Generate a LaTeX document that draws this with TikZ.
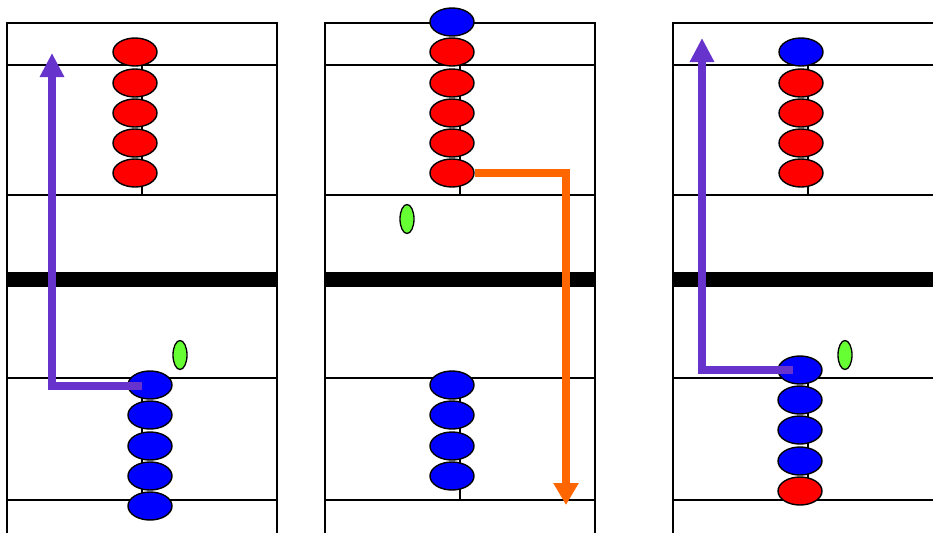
\documentclass[tikz,border=0pt]{standalone}
\usetikzlibrary{shapes.geometric,arrows.meta}
\definecolor{beadred}{RGB}{255,0,0}
\definecolor{beadblue}{RGB}{0,0,255}
\definecolor{ionGreen}{RGB}{102,255,51}
\definecolor{arrowPurple}{RGB}{102,51,204}
\definecolor{arrowOrange}{RGB}{255,102,0}
\tikzset{
  frame/.style={line width=1.9pt, black},
  barline/.style={line width=15pt, black},
  rod/.style={line width=2.8pt, black},
  bead/.style={ellipse, draw=black, line width=1.4pt, minimum width=44pt, minimum height=28pt, inner sep=0pt},
  redbead/.style={bead, fill=beadred},
  bluebead/.style={bead, fill=beadblue},
  ionbead/.style={ellipse, draw=black, line width=1.3pt, fill=ionGreen, minimum width=14pt, minimum height=29pt, inner sep=0pt},
  purplearrow/.style={line width=7.5pt, arrowPurple, line join=miter, -{Triangle[width=23pt,length=24pt]}},
  orangearrow/.style={line width=7.5pt, arrowOrange, line join=miter, -{Triangle[width=24pt,length=22pt]}}
}
\begin{document}
\begin{tikzpicture}[x=1pt,y=-1pt]
\useasboundingbox (0,0) rectangle (933,533);
% ---------- frames ----------
% panel 1
\draw[frame] (7,533) -- (7,23) -- (277,23) -- (277,533);
\foreach \yy in {65,195,378,500} \draw[frame] (7,\yy) -- (277,\yy);
\draw[barline] (7,279) -- (277,279);
% panel 2
\draw[frame] (325,533) -- (325,23) -- (595,23) -- (595,533);
\foreach \yy in {65,195,378,500} \draw[frame] (325,\yy) -- (595,\yy);
\draw[barline] (325,279) -- (595,279);
% panel 3
\draw[frame] (673,533) -- (673,23) -- (933,23);
\foreach \yy in {65,195,378,500} \draw[frame] (673,\yy) -- (933,\yy);
\draw[barline] (673,279) -- (933,279);
% ---------- rods ----------
\draw[rod] (142,65) -- (142,195);
\draw[rod] (142,378) -- (142,500);
\draw[rod] (460,65) -- (460,195);
\draw[rod] (460,378) -- (460,500);
\draw[rod] (808,65) -- (808,195);
\draw[rod] (808,378) -- (808,500);
% ---------- panel 1 beads ----------
\node[redbead] (ar1) at (135,52) {};
\node[redbead] (ar2) at (135,83) {};
\node[redbead] (ar3) at (135,113) {};
\node[redbead] (ar4) at (135,143) {};
\node[redbead] (ar5) at (135,173) {};
\node[bluebead] (ab1) at (150,385) {};
\node[bluebead] (ab2) at (150,415) {};
\node[bluebead] (ab3) at (150,446) {};
\node[bluebead] (ab4) at (150,476) {};
\node[bluebead] (ab5) at (150,506) {};
\node[ionbead] (ag) at (180,355) {};
% ---------- panel 2 beads ----------
\node[bluebead] (bt) at (452,22) {};
\node[redbead] (br1) at (452,52) {};
\node[redbead] (br2) at (452,83) {};
\node[redbead] (br3) at (452,113) {};
\node[redbead] (br4) at (452,143) {};
\node[redbead] (br5) at (452,173) {};
\node[bluebead] (bb1) at (452,385) {};
\node[bluebead] (bb2) at (452,415) {};
\node[bluebead] (bb3) at (452,446) {};
\node[bluebead] (bb4) at (452,476) {};
\node[ionbead] (bg) at (407,219) {};
% ---------- panel 3 beads ----------
\node[bluebead] (ct) at (801,52) {};
\node[redbead] (cr2) at (801,83) {};
\node[redbead] (cr3) at (801,113) {};
\node[redbead] (cr4) at (801,143) {};
\node[redbead] (cr5) at (801,173) {};
\node[bluebead] (cb1) at (800,370) {};
\node[bluebead] (cb2) at (800,400) {};
\node[bluebead] (cb3) at (800,430) {};
\node[bluebead] (cb4) at (800,461) {};
\node[redbead] (cb5) at (800,491) {};
\node[ionbead] (cg) at (845,355) {};
% ---------- arrows ----------
\coordinate (astart) at ([xshift=-8pt,yshift=-1pt]ab1.center);
\coordinate (aend) at (52,53);
\draw[purplearrow] (astart) -- (astart -| aend) -- (aend);
\coordinate (bend) at (566,505);
\draw[orangearrow] (br5.east) -| (bend);
\coordinate (cstart) at ([xshift=-7pt]cb1.center);
\coordinate (cend) at (702,38);
\draw[purplearrow] (cstart) -- (cstart -| cend) -- (cend);
\end{tikzpicture}
\end{document}
